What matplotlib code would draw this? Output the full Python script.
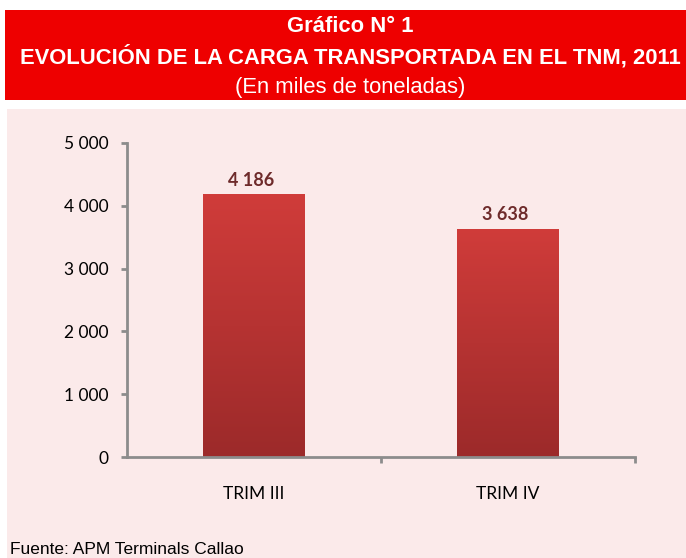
import matplotlib
matplotlib.use("Agg")
import matplotlib.pyplot as plt
from matplotlib.patches import Rectangle
from matplotlib.colors import LinearSegmentedColormap
import numpy as np

categories = ["TRIM III", "TRIM IV"]
values = [4186, 3638]
yticks = [0, 1000, 2000, 3000, 4000, 5000]

title1 = "Gráfico N° 1"
title2 = "EVOLUCIÓN DE LA CARGA TRANSPORTADA EN EL TNM, 2011"
title3 = "(En miles de toneladas)"
source = "Fuente: APM Terminals Callao"

W, H = 686, 558
fig = plt.figure(figsize=(W / 100, H / 100), dpi=100)
fig.patch.set_facecolor("white")

# pink panel and red banner
fig.add_artist(Rectangle((7 / W, 0), 1 - 7 / W, 1 - 109 / H, transform=fig.transFigure,
                         facecolor="#FBEAEA", edgecolor="none", zorder=-10))
fig.add_artist(Rectangle((5 / W, 1 - 100 / H), 1 - 5 / W, 90 / H, transform=fig.transFigure,
                         facecolor="#EE0000", edgecolor="none", zorder=-10))

fig.text(350 / W, 1 - 27 / H, title1, ha="center", va="center", color="white",
         fontsize=15.8, fontweight="bold", family="Liberation Sans")
fig.text(350 / W, 1 - 57 / H, title2, ha="center", va="center", color="white",
         fontsize=15.8, fontweight="bold", family="Liberation Sans")
fig.text(350 / W, 1 - 87 / H, title3, ha="center", va="center", color="white",
         fontsize=15.8, family="Liberation Sans")
fig.text(10 / W, 4 / H, source, ha="left", va="baseline", color="black",
         fontsize=12.5, family="Liberation Sans")

ax = fig.add_axes([127 / W, 1 - 457 / H, (635 - 127) / W, (457 - 143) / H], zorder=5)
ax.set_facecolor("none")

cmap = LinearSegmentedColormap.from_list("bar", ["#9C2A2A", "#D03C3A"])
grad = np.linspace(0, 1, 256).reshape(-1, 1)
bw = 0.4
x = np.arange(len(categories))
bars = ax.bar(x, values, width=bw, color="none", edgecolor="none")
for b, v in zip(bars, values):
    im = ax.imshow(grad, cmap=cmap, origin="lower", aspect="auto",
                   extent=[b.get_x(), b.get_x() + b.get_width(), 0, v], zorder=2)
    im.set_clip_path(b)
    ax.annotate(f"{v:,}".replace(",", " "), (b.get_x() + b.get_width() / 2, v),
                xytext=(-2, 4), textcoords="offset points", ha="center", va="bottom",
                fontsize=13, fontweight="bold", color="#6E2B2B", family="Lato")
ax.set_xlim(-0.5, len(categories) - 0.5)
ax.set_ylim(0, 5000)

for s in ["top", "right"]:
    ax.spines[s].set_visible(False)
for s in ["left", "bottom"]:
    ax.spines[s].set_color("#8C8C8C")
    ax.spines[s].set_linewidth(2)

ax.set_yticks(yticks)
ax.set_yticklabels([f"{t:,}".replace(",", " ") for t in yticks], family="Lato", fontsize=12.5)
ax.tick_params(axis="y", length=4.5, width=2, color="#8C8C8C", pad=9)

ax.set_xticks(x)
ax.set_xticklabels(categories, family="Lato", fontsize=12.5)
ax.tick_params(axis="x", which="major", length=0, pad=21)
ax.set_xticks([0.5, 1.5], minor=True)
ax.tick_params(axis="x", which="minor", length=4.5, width=2, color="#8C8C8C")

fig.savefig("out.png", dpi=100)
